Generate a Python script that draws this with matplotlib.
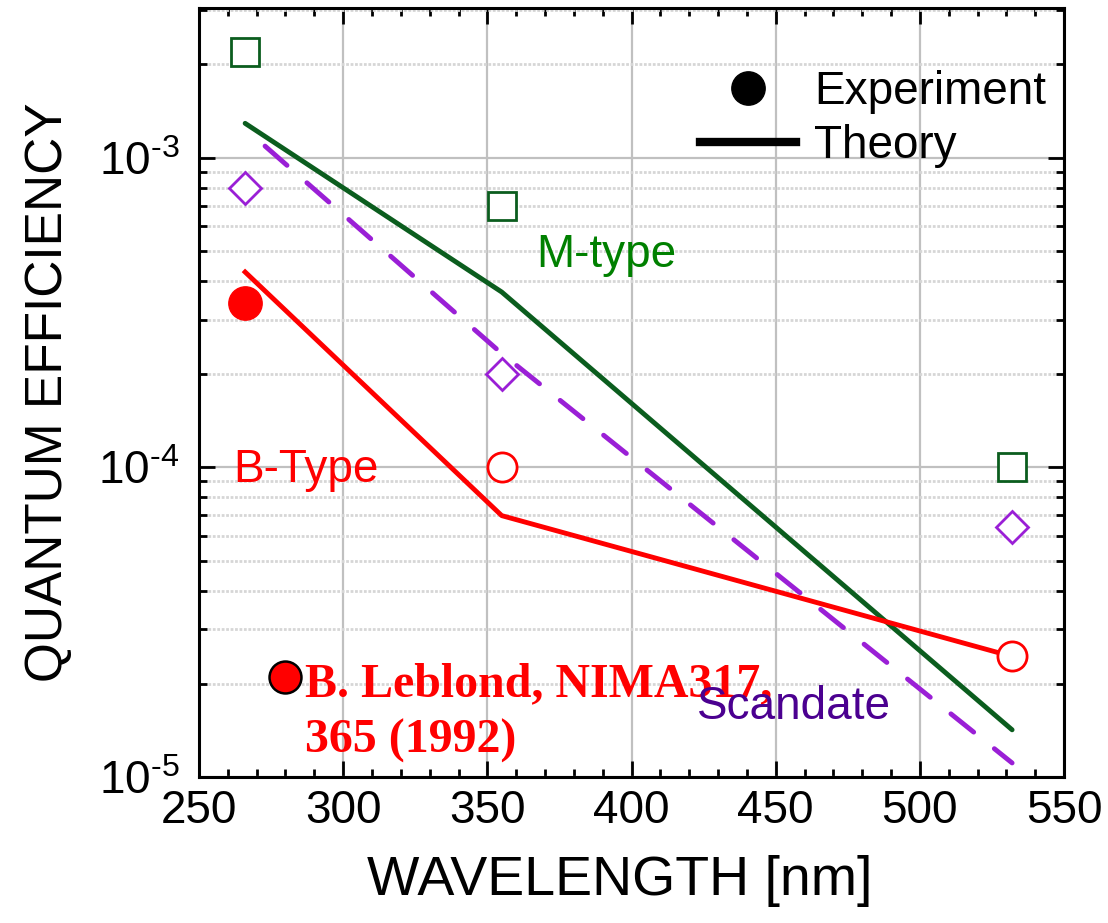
import numpy as np
import matplotlib
matplotlib.use('Agg')
import matplotlib.pyplot as plt
from matplotlib.lines import Line2D
from matplotlib.ticker import MultipleLocator, LogLocator, NullFormatter

plt.rcParams['font.family'] = ['Liberation Sans', 'DejaVu Sans']
plt.rcParams['mathtext.fontset'] = 'custom'
plt.rcParams['mathtext.rm'] = 'Liberation Sans'
plt.rcParams['mathtext.it'] = 'Liberation Sans:italic'

# wavelengths [nm]
wl = [266, 355, 532]

# measured QE
m_exp = [2.2e-3, 7.0e-4, 1.0e-4]
sc_exp = [8.0e-4, 2.0e-4, 6.4e-5]
b_exp_filled = [3.4e-4]
b_exp_open = [1.0e-4, 2.45e-5]

# theory curves
m_th = [1.29e-3, 3.68e-4, 1.42e-5]
sc_th = [1.24e-3, 2.33e-4, 1.11e-5]
b_th = [4.27e-4, 6.98e-5, 2.45e-5]

# Leblond reference point
ref_wl = [280]
ref_qe = [2.1e-5]

ytick_vals = [1e-5, 1e-4, 1e-3]
ytick_lbls = [r'$\mathregular{10^{\text{-5}}}$', r'$\mathregular{10^{\text{-4}}}$',
              r'$\mathregular{10^{\text{-3}}}$']

red = '#ff0000'
green = '#0b5d1e'
green_txt = '#008000'
purple = '#9a1fd6'
indigo = '#4b0090'

fig = plt.figure(figsize=(11.08, 9.23), dpi=100)
ax = fig.add_axes([0.1796, 0.1582, 0.7807, 0.8331])

ax.plot(wl, m_th, color=green, lw=3.5, solid_capstyle='round', zorder=3)
ax.plot(wl, sc_th, color=purple, lw=3.5, linestyle=(6.0, (6.0, 5.45)),
        dash_capstyle='round', zorder=3)
ax.plot(wl, b_th, color=red, lw=3.5, zorder=3)

ax.plot(wl, m_exp, 's', ms=20, mfc='white', mec=green, mew=2, ls='none', zorder=4)
ax.plot(wl, sc_exp, 'D', ms=16, mfc='white', mec=purple, mew=2, ls='none', zorder=4)
ax.plot(wl[:1], b_exp_filled, 'o', ms=24, color=red, ls='none', zorder=4)
ax.plot(wl[1:], b_exp_open, 'o', ms=21, mfc='white', mec=red, mew=2, ls='none', zorder=4)
ax.plot(ref_wl, ref_qe, 'o', ms=23, mfc=red, mec='black', mew=1.8, ls='none', zorder=4)

ax.text(366.9, 4.42e-4, 'M-type', color=green_txt, fontsize=33, va='baseline', zorder=5)
ax.text(261.9, 8.95e-5, 'B-Type', color=red, fontsize=33, va='baseline', zorder=5)
ax.text(286.8, 1.2e-5, 'B. Leblond, NIMA317,\n365 (1992)', color=red, fontsize=34.5,
        family='Liberation Serif', fontweight='bold', va='baseline',
        linespacing=1.35, zorder=5)
ax.text(422.7, 1.54e-5, 'Scandate', color=indigo, fontsize=33, va='baseline', zorder=6)

ax.set_yscale('log')
ax.set_xlim(250, 550)
ax.set_ylim(1e-5, 3.04e-3)

ax.xaxis.set_major_locator(MultipleLocator(50))
ax.xaxis.set_minor_locator(MultipleLocator(10))
ax.yaxis.set_minor_locator(LogLocator(base=10, subs=np.arange(2, 10), numticks=20))
ax.yaxis.set_minor_formatter(NullFormatter())
ax.set_yticks(ytick_vals)
ax.set_yticklabels(ytick_lbls)

ax.tick_params(which='both', direction='in', top=True, right=True, labelsize=33)
ax.tick_params(which='major', length=11.5, width=2)
ax.tick_params(which='minor', length=6, width=2)
ax.tick_params(axis='x', which='major', pad=9)
ax.tick_params(axis='y', which='major', pad=14)
for s in ax.spines.values():
    s.set_linewidth(2.2)

ax.grid(which='major', color='#c0c0c0', lw=1.6, zorder=0)
ax.grid(which='minor', axis='y', color='#d6d6d6', lw=2, linestyle=(0, (1, 0.6)), zorder=0)
ax.set_axisbelow(True)

ax.set_xlabel('WAVELENGTH [nm]', fontsize=40)
ax.set_ylabel('QUANTUM EFFICIENCY', fontsize=37)
ax.xaxis.set_label_coords(0.486, -0.1014)
ax.yaxis.set_label_coords(-0.1457, 0.5)

handles = [Line2D([], [], marker='o', ls='none', color='black', ms=24),
           Line2D([], [], color='black', lw=6)]
ax.legend(handles, ['Experiment', 'Theory'], loc='upper left',
          bbox_to_anchor=(0.579, 0.919), frameon=False, fontsize=33,
          handlelength=2.1, handletextpad=0.4, labelspacing=0.22,
          borderpad=0, borderaxespad=0)

fig.savefig('out.png', dpi=100)
